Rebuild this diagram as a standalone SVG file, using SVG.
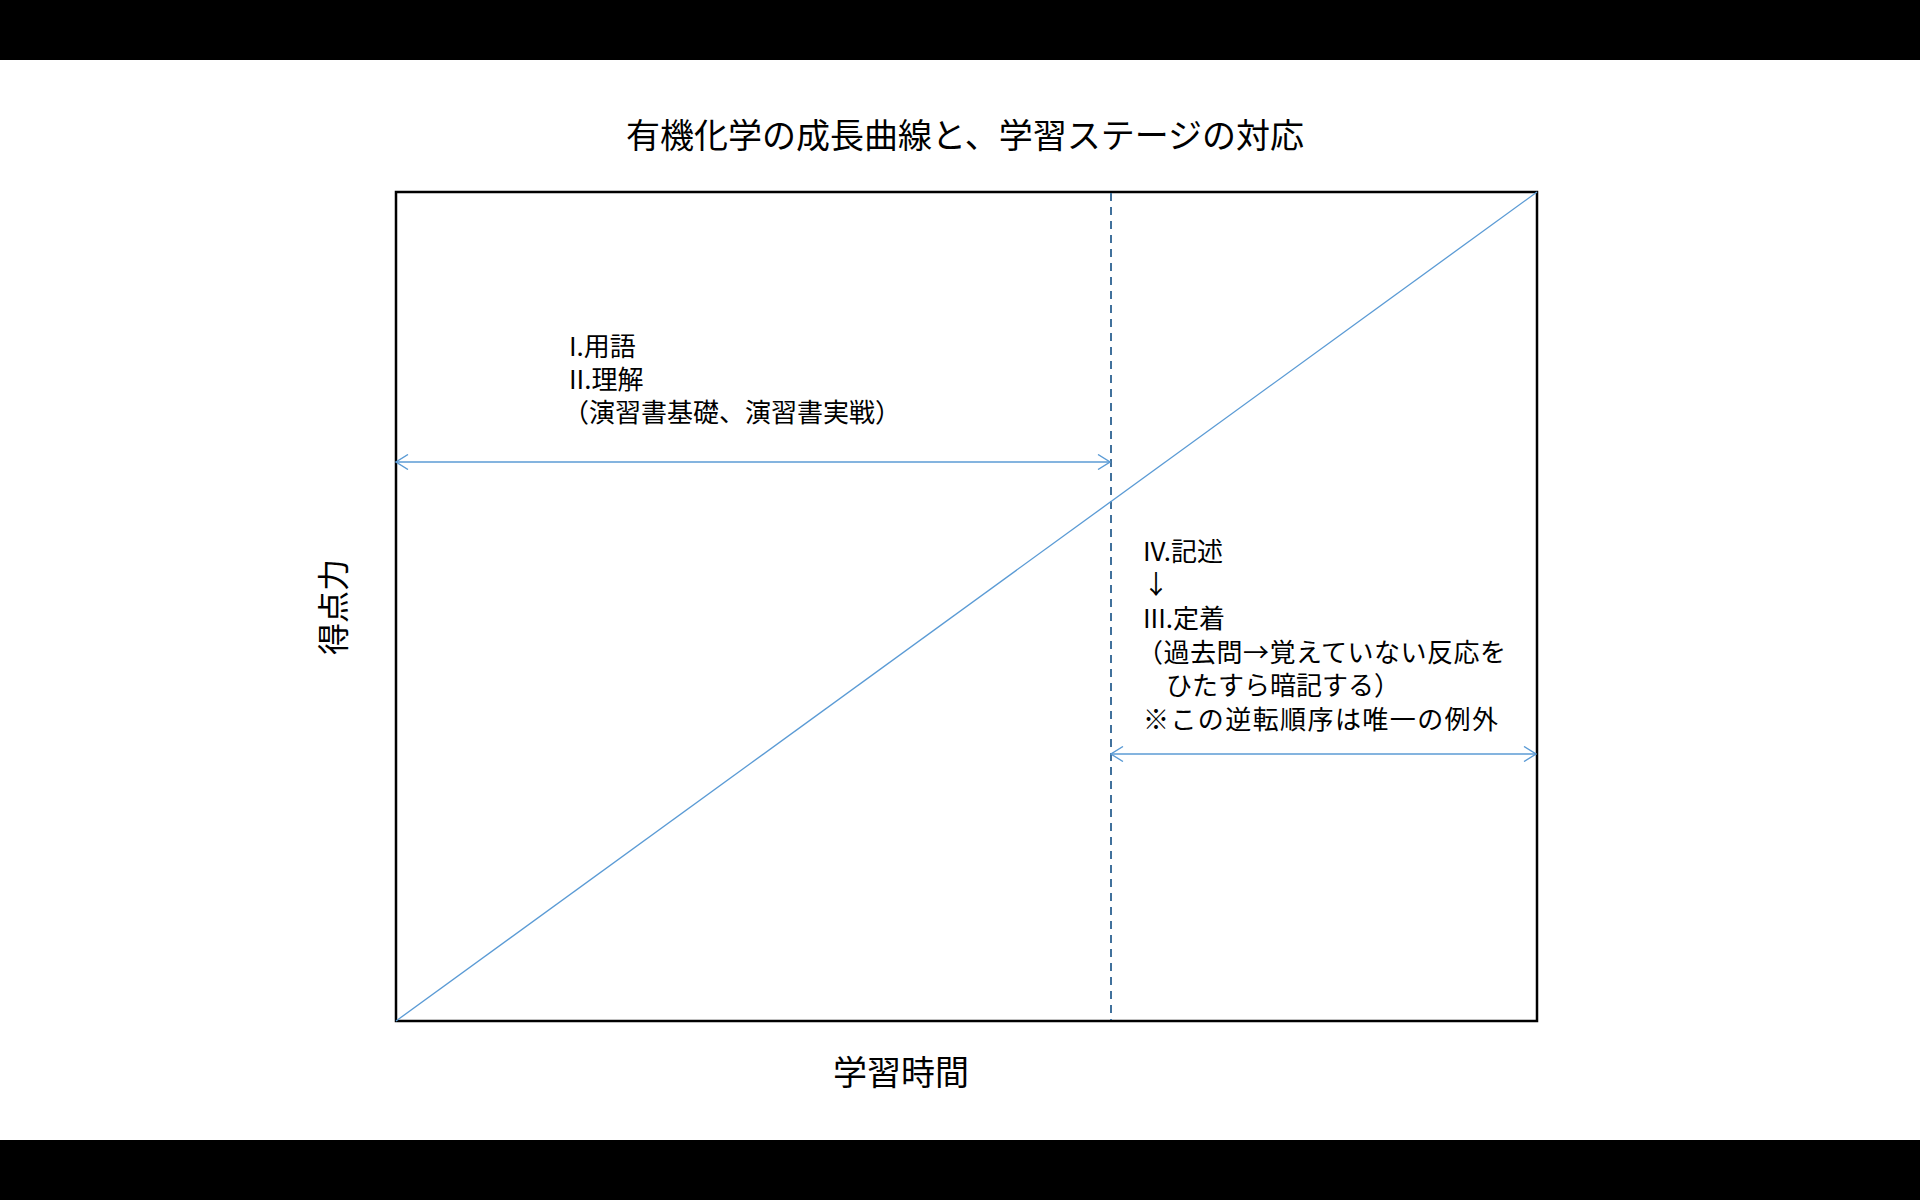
<svg xmlns="http://www.w3.org/2000/svg" width="1920" height="1200" viewBox="0 0 1920 1200">
<defs>
<style>
.t{font-family:"Noto Sans CJK JP","Noto Sans CJK SC",sans-serif;fill:#000}
.lbl{font-size:26px}
.big{font-size:34px}
.arr{stroke:#5B9BD5;stroke-width:1.4;fill:none}
</style>
<marker id="ah" viewBox="0 0 14 16" refX="13" refY="8" markerWidth="14" markerHeight="16" markerUnits="userSpaceOnUse" orient="auto-start-reverse">
<path d="M1,0.5 L13,8 L1,15.5" fill="none" stroke="#5B9BD5" stroke-width="1.4"/>
</marker>
</defs>
<rect x="0" y="0" width="1920" height="1200" fill="#fff"/>
<rect x="0" y="0" width="1920" height="60" fill="#000"/>
<rect x="0" y="1140" width="1920" height="60" fill="#000"/>

<g id="title"><text class="t big" x="965" y="148" text-anchor="middle">有機化学の成長曲線と、学習ステージの対応</text></g>

<g id="chart">
<rect x="396" y="192" width="1141" height="829" fill="none" stroke="#000" stroke-width="2.5"/>
</g>

<g id="connectors">
<line x1="1111" y1="193" x2="1111" y2="1020" stroke="#41719C" stroke-width="2" stroke-dasharray="8,6"/>
<line x1="396" y1="1021" x2="1537" y2="192" stroke="#5B9BD5" stroke-width="1.3"/>
<line class="arr" x1="396" y1="462" x2="1110" y2="462" marker-start="url(#ah)" marker-end="url(#ah)"/>
<line class="arr" x1="1111" y1="754" x2="1536" y2="754" marker-start="url(#ah)" marker-end="url(#ah)"/>
</g>

<g id="label-left">
<text class="t lbl" x="569" y="356">I.用語</text>
<text class="t lbl" x="569" y="389">II.理解</text>
<text class="t lbl" x="563" y="422">（演習書基礎、演習書実戦）</text>
</g>

<g id="label-right">
<text class="t lbl" x="1143" y="561">IV.記述</text>
<text class="t lbl" x="1143" y="594">↓</text>
<text class="t lbl" x="1143" y="628">III.定着</text>
<text class="t lbl" x="1137" y="662" textLength="369" lengthAdjust="spacing">（過去問→覚えていない反応を</text>
<text class="t lbl" x="1166" y="695">ひたすら暗記する）</text>
<text class="t lbl" x="1143" y="729" textLength="355" lengthAdjust="spacing">※この逆転順序は唯一の例外</text>
</g>

<g id="axis-y"><text class="t" font-size="32" x="0" y="0" text-anchor="middle" transform="translate(345,607) rotate(-90)">得点力</text></g>
<g id="axis-x"><text class="t big" x="901" y="1085" text-anchor="middle">学習時間</text></g>
</svg>
